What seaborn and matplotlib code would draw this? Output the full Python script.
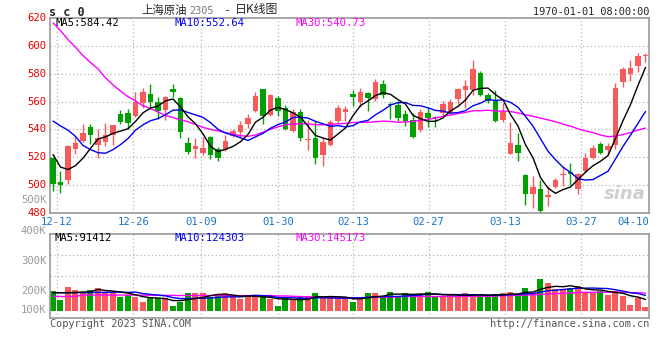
import numpy as np
import pandas as pd
import matplotlib
matplotlib.use("Agg")
import matplotlib.pyplot as plt
import seaborn as sns

sns.set_theme(style="white")
plt.rcParams['font.family'] = ['DejaVu Sans Mono', 'Noto Sans CJK SC']

# sc0 daily candles, 80 sessions
opens = [519.5, 502.4, 504.0, 526.0, 531.7, 541.4, 529.0, 531.0, 536.0, 551.0,
         552.0, 549.8, 559.3, 565.2, 560.0, 554.0, 568.8, 562.4, 530.2, 525.7,
         523.3, 534.6, 525.8, 525.3, 535.5, 538.1, 544.0, 553.3, 568.8, 550.2,
         562.4, 555.2, 538.6, 552.6, 532.2, 534.0, 521.7, 529.0, 546.2, 552.6,
         565.5, 559.8, 566.4, 561.7, 572.4, 558.6, 557.6, 551.0, 546.7, 539.8,
         551.7, 548.5, 551.7, 552.1, 561.7, 568.3, 568.3, 580.7, 564.5, 560.5,
         546.7, 522.4, 528.8, 507.4, 494.0, 497.2, 491.5, 499.0, 507.0, 509.6,
         497.0, 509.8, 519.6, 529.6, 525.3, 528.8, 573.8, 579.5, 585.2, 592.5]
closes = [501.0, 500.0, 528.0, 530.5, 537.4, 536.0, 533.8, 535.7, 543.0, 545.5,
          544.5, 560.0, 566.7, 559.8, 553.0, 563.0, 566.9, 538.3, 524.0, 528.2,
          526.7, 521.9, 519.8, 531.9, 538.8, 543.3, 548.1, 564.0, 549.3, 564.8,
          552.9, 540.3, 552.2, 534.0, 532.6, 519.3, 531.0, 545.3, 555.2, 554.5,
          563.3, 567.1, 562.4, 574.3, 564.8, 557.4, 548.1, 546.0, 534.3, 552.6,
          548.1, 548.2, 558.0, 559.5, 568.8, 571.2, 583.1, 564.8, 560.5, 545.7,
          552.6, 530.3, 522.9, 493.8, 498.8, 481.2, 493.1, 503.6, 507.4, 507.9,
          507.9, 519.8, 526.7, 523.4, 528.1, 569.8, 583.3, 584.3, 592.4, 592.9]
highs = [520.5, 509.8, 529.0, 535.0, 543.6, 543.8, 540.3, 544.8, 543.5, 554.0,
         555.0, 567.0, 569.5, 572.4, 563.3, 564.0, 572.4, 563.6, 534.3, 534.0,
         534.5, 535.0, 527.3, 535.7, 540.3, 546.0, 551.0, 567.0, 568.8, 565.7,
         564.0, 557.4, 554.5, 554.5, 546.7, 546.2, 534.0, 546.7, 557.4, 556.9,
         568.3, 569.5, 567.0, 576.0, 575.5, 560.0, 560.5, 553.8, 551.7, 554.5,
         555.7, 549.8, 560.5, 562.1, 570.0, 575.2, 590.0, 581.9, 566.4, 568.3,
         558.8, 545.0, 537.4, 508.1, 506.7, 503.8, 499.6, 504.8, 513.8, 515.7,
         509.0, 523.4, 528.6, 530.7, 530.5, 573.3, 584.5, 590.0, 594.8, 595.2]
lows = [495.5, 494.5, 501.0, 522.6, 530.7, 529.5, 519.3, 528.0, 528.8, 543.8,
        540.0, 548.6, 555.2, 555.0, 547.4, 547.0, 563.3, 533.8, 522.5, 519.8,
        521.7, 519.0, 517.0, 524.5, 534.3, 534.8, 541.0, 552.2, 543.8, 549.5,
        549.8, 539.8, 538.3, 531.9, 525.5, 515.5, 514.0, 528.3, 544.8, 546.0,
        556.7, 556.4, 553.3, 560.7, 562.4, 547.4, 546.4, 542.6, 533.8, 537.9,
        541.9, 541.9, 549.8, 551.0, 558.1, 555.7, 564.5, 564.0, 559.3, 545.0,
        545.5, 522.4, 517.6, 485.5, 483.4, 480.0, 485.3, 497.9, 499.6, 500.3,
        494.0, 509.0, 518.6, 522.2, 521.5, 525.7, 570.5, 574.5, 581.0, 588.1]
volume_k = [169.3, 91.8, 203.8, 177.9, 163.6, 177.9, 195.2, 155.0, 155.0, 120.5,
            134.9, 120.5, 77.5, 106.2, 106.2, 109.1, 40.2, 71.8, 152.1, 152.1,
            152.1, 120.5, 126.3, 152.1, 123.4, 103.3, 123.4, 120.5, 126.3, 103.3,
            40.2, 114.8, 103.3, 114.8, 114.8, 152.1, 114.8, 114.8, 103.3, 103.3,
            74.6, 117.7, 155.0, 155.0, 126.3, 160.7, 117.7, 155.0, 143.5, 143.5,
            160.7, 117.7, 123.4, 143.5, 123.4, 152.1, 123.4, 143.5, 117.7, 143.5,
            152.1, 160.7, 143.5, 195.2, 152.1, 272.7, 241.1, 189.4, 177.9, 195.2,
            212.4, 163.6, 152.1, 169.3, 134.9, 169.3, 123.4, 48.8, 111.9, 31.6]

# moving-average values where history is not on the chart
ma5_head = [522.0, 513.0, 511.2, 514.0]
ma10_head = [546.0, 542.5, 539.5, 535.0, 528.5, 525.5, 523.3, 522.9, 525.5]
ma30_head = [616.5, 611.0, 604.5, 599.0, 593.0, 588.0, 583.5, 577.0, 572.0, 567.5,
             563.5, 560.5, 557.0, 555.0, 552.5, 550.0, 548.5, 547.0, 545.5, 543.5,
             541.5, 540.0, 539.0, 537.8, 536.5, 535.5, 535.0, 536.0, 538.0]
vol_ma5_head = [155.0, 155.0, 156.0, 157.0]
vol_ma10_head = [155.0, 155.0, 155.0, 156.0, 156.0, 157.0, 158.0, 158.0, 159.0]
vol_ma30_head = [123.0, 123.0, 123.0, 123.0, 135.0, 135.0, 135.0, 135.0, 135.0, 135.0,
                 135.0, 135.0, 134.0, 134.0, 133.0, 132.0, 132.0, 131.0, 131.0, 131.0,
                 131.0, 131.0, 130.0, 130.0, 130.0, 130.0, 130.0, 130.0, 130.0]

date_ticks = [0.55, 10.7, 19.8, 30.0, 40.0, 50.1, 60.3, 70.45]
date_labels = ['12-12', '12-26', '01-09', '01-30', '02-13', '02-27', '03-13', '03-27']
last_date = '04-10'
price_ticks = [480, 500, 520, 540, 560, 580, 600, 620]
vol_labels = ['500K', '400K', '300K', '200K', '100K']
ma_texts = ['MA5:584.42', 'MA10:552.64', 'MA30:540.73']
vol_ma_texts = ['MA5:91412', 'MA10:124303', 'MA30:145173']

RED = '#f65a5a'
GREEN = '#00a000'
GRID = '#b4b4b4'
FRAME = '#999999'
MA_COLORS = ['black', '#0000f0', '#ff00ff']

df = pd.DataFrame({'open': opens, 'close': closes, 'high': highs, 'low': lows, 'vol': volume_k})
df['i'] = np.arange(len(df))
df['dir'] = np.where(df['close'] >= df['open'], 'up', 'down')
for n, head, vhead in [(5, ma5_head, vol_ma5_head), (10, ma10_head, vol_ma10_head), (30, ma30_head, vol_ma30_head)]:
    df[f'ma{n}'] = df['close'].rolling(n).mean()
    df.loc[:n - 2, f'ma{n}'] = head
    df[f'vma{n}'] = df['vol'].rolling(n).mean()
    df.loc[:n - 2, f'vma{n}'] = vhead

W, H = 660, 360
fig = plt.figure(figsize=(6.6, 3.6), dpi=100)
fig.patch.set_facecolor('white')


def fx(x):
    return x / W


def fy(y):
    return 1 - y / H


ax = fig.add_axes([fx(50), fy(213), (649 - 50) / W, (213 - 18) / H])
axv = fig.add_axes([fx(50), fy(317.7), (649 - 50) / W, (317.7 - 234.3) / H])
xlim = (-0.4, 79.47)

# ---- price panel
colors = np.where(df['dir'] == 'up', RED, GREEN)
ax.vlines(df['i'], df['low'], df['high'], colors=colors, linewidth=1, zorder=2)
body = np.maximum((df['close'] - df['open']).abs(), 0.7)
ax.bar(df['i'], body, bottom=np.minimum(df['open'], df['close']), width=0.76,
       color=colors, linewidth=0, zorder=3)
for n, col in zip([30, 10, 5], MA_COLORS[::-1]):
    sns.lineplot(x=df['i'], y=df[f'ma{n}'], ax=ax, color=col, linewidth=1, errorbar=None, zorder=4)

for t in date_ticks:
    ax.axvline(t, color=GRID, lw=0.9, ls=(0, (1, 2)), zorder=0)
    axv.axvline(t, color=GRID, lw=0.9, ls=(0, (1, 2)), zorder=0)
for p in price_ticks[1:-1]:
    ax.axhline(p, color=GRID, lw=0.9, ls=(0, (1, 2)), zorder=0)
ax.set_xlim(*xlim)
ax.set_ylim(480, 620)

# ---- volume panel
sns.barplot(data=df, x='i', y='vol', hue='dir', palette={'up': RED, 'down': GREEN},
            dodge=False, width=0.8, legend=False, errorbar=None, saturation=1,
            linewidth=0, ax=axv, zorder=2)
for n, col in zip([30, 10, 5], MA_COLORS[::-1]):
    axv.plot(df['i'], df[f'vma{n}'], color=col, linewidth=1, zorder=4)
for f in (0.25, 0.5, 0.75):
    axv.plot([0, 1], [f, f], transform=axv.transAxes, color=GRID, lw=0.9, ls=(0, (1, 2)), zorder=0)
axv.set_xlim(*xlim)
axv.set_ylim(-60, 658)

for a in (ax, axv):
    a.set_xticks([])
    a.set_yticks([])
    a.set_xlabel('')
    a.set_ylabel('')
    for s in a.spines.values():
        s.set_color(FRAME)
        s.set_linewidth(1.2)

# ---- texts
mono = 'DejaVu Sans Mono'
for p in price_ticks:
    ax.text(-0.006, (p - 480) / 140, str(p), transform=ax.transAxes, ha='right', va='center',
            color='#e60000', fontsize=7.6, family=mono, clip_on=False)
for lab, f in zip(vol_labels, [1.408, 1.043, 0.676, 0.324, 0.089]):
    axv.text(-0.006, f, lab, transform=axv.transAxes, ha='right', va='center',
             color='#999999', fontsize=7.6, family=mono, clip_on=False)
for t, lab in zip(date_ticks, date_labels):
    fig.text(fx(50 + (t - xlim[0]) * 7.5), fy(221.7), lab, ha='center', va='center',
             color='#1874cd', fontsize=7.6, family=mono)
fig.text(fx(649), fy(221.7), last_date, ha='right', va='center', color='#1874cd',
         fontsize=7.6, family=mono)

for txt, x, col in zip(ma_texts, [55, 174.3, 295], MA_COLORS):
    fig.text(fx(x), fy(23.3), txt, ha='left', va='center', color=col, fontsize=7.6, family=mono)
for txt, x, col in zip(vol_ma_texts, [54.3, 174.3, 295], MA_COLORS):
    fig.text(fx(x), fy(238.3), txt, ha='left', va='center', color=col, fontsize=7.6, family=mono)

fig.text(fx(49), fy(12.3), 's c 0', ha='left', va='center', fontsize=8.5, fontweight='bold', family=mono)
fig.text(fx(141.7), fy(10), '上海原油', ha='left', va='center', fontsize=8.2,
         family=['Noto Sans CJK SC', 'DejaVu Sans'])
fig.text(fx(189), fy(10.5), '2305', ha='left', va='center', fontsize=7.4, color='#777777', family=mono)
fig.text(fx(226.7), fy(10), '-', ha='center', va='center', fontsize=8.2, family=mono)
fig.text(fx(235), fy(10), '日K线图', ha='left', va='center', fontsize=8.6,
         family=['Noto Sans CJK SC', 'DejaVu Sans'])
fig.text(fx(649), fy(11.7), '1970-01-01 08:00:00', ha='right', va='center', fontsize=7.4, family=mono)
fig.text(fx(50), fy(323.7), 'Copyright 2023 SINA.COM', ha='left', va='center', fontsize=7.4,
         color='#555555', family=mono)
fig.text(fx(649), fy(323.7), 'http://finance.sina.com.cn', ha='right', va='center', fontsize=7.4,
         color='#555555', family=mono)
fig.text(fx(646), fy(194), 'sina', ha='right', va='center', fontsize=13, fontstyle='italic',
         fontweight='bold', color='#cfcfcf', family='DejaVu Sans', zorder=1)

fig.savefig('out.png', dpi=100, facecolor='white')
